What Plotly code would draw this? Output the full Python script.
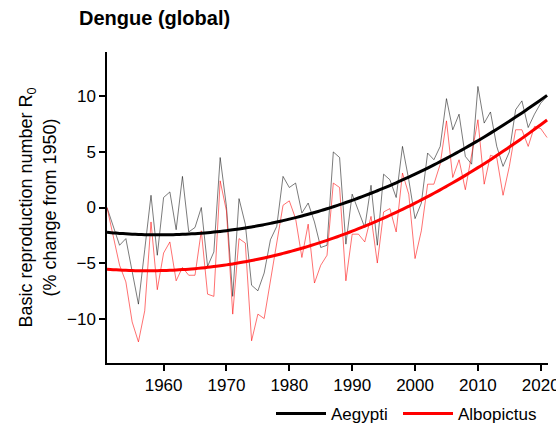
import numpy as np
import plotly.graph_objects as go

years = list(range(1951, 2022))

aegypti = [
    0.0, -1.7, -3.4, -2.8, -5.8, -8.7, -3.8, 1.1, -4.3, 0.9,
    1.4, -2.0, 2.8, -2.2, -1.8, 0.0, -5.3, -4.0, 4.5, 0.1,
    -8.0, 0.8, -1.5, -7.0, -7.5, -5.9, -2.9, -1.7, 2.8, 1.8,
    2.2, -0.5, 0.4, -1.3, -3.6, -3.4, 5.0, 4.5, -3.3, 1.2,
    -0.3, -1.8, 2.0, -3.4, 3.0, 2.5, 0.9, 5.5, 2.5, -1.0,
    0.4, 4.9, 4.3, 5.5, 9.8, 7.0, 8.4, 4.6, 3.9, 10.9,
    7.6, 8.6, 5.5, 3.7, 5.0, 8.8, 9.6, 7.2, 8.4, 9.4,
    10.0,
]

albopictus = [
    0.0, -2.5, -5.2, -6.7, -10.3, -12.1, -9.3, -1.3, -7.4, -4.1,
    -3.1, -6.6, -5.4, -6.1, -6.1, -2.1, -7.8, -8.0, 2.4, -0.3,
    -9.6, -2.8, -3.2, -12.0, -9.6, -10.0, -6.7, -3.3, 0.2, 0.6,
    -1.0, -4.5, -1.5, -6.8, -5.2, -4.3, 2.2, 1.8, -6.6, -2.4,
    -2.4, -3.1, -0.8, -5.0, -0.4, -0.1, -2.2, 3.1, 1.2, -4.6,
    -2.1, 2.1, 2.1, 3.9, 7.8, 2.7, 4.3, 1.6, 4.8, 7.9,
    2.1, 4.7, 4.5, 1.1, 3.7, 7.0, 7.0, 5.5, 7.3, 7.1,
    6.3,
]

series_names = ["Aegypti", "Albopictus"]
x_ticks = [1960, 1970, 1980, 1990, 2000, 2010, 2020]
y_ticks = [-10, -5, 0, 5, 10]

FONT = "Liberation Sans, Arial, sans-serif"

yrs = np.array(years, dtype=float)
fit_a = np.polyval(np.polyfit(yrs, aegypti, 2), yrs)
fit_b = np.polyval(np.polyfit(yrs, albopictus, 2), yrs)

fig = go.Figure()
fig.add_trace(go.Scatter(x=years, y=aegypti, mode="lines", showlegend=False,
                         line=dict(color="rgba(0,0,0,0.65)", width=0.8), hoverinfo="skip"))
fig.add_trace(go.Scatter(x=years, y=albopictus, mode="lines", showlegend=False,
                         line=dict(color="rgba(255,0,0,0.7)", width=0.8), hoverinfo="skip"))
fig.add_trace(go.Scatter(x=years, y=fit_a, mode="lines", name=series_names[0],
                         legend="legend",
                         line=dict(color="black", width=3, shape="spline")))
fig.add_trace(go.Scatter(x=years, y=fit_b, mode="lines", name=series_names[1],
                         legend="legend2",
                         line=dict(color="red", width=3, shape="spline")))

legend_common = dict(orientation="h", xanchor="left", xref="container",
                     y=1 - 414 / 425, yanchor="middle", yref="container",
                     itemwidth=50, font=dict(size=17), bgcolor="rgba(0,0,0,0)")

fig.update_layout(
    width=556, height=425,
    margin=dict(l=107, r=8, t=52, b=62, autoexpand=False),
    plot_bgcolor="white", paper_bgcolor="white",
    font=dict(family=FONT, size=17, color="black"),
    title=dict(text="<b>Dengue (global)</b>", font=dict(size=20, family=FONT),
               x=79 / 556, xanchor="left", xref="container",
               y=1 - 18 / 425, yanchor="middle", yref="container"),
    showlegend=True,
    legend=dict(x=271 / 556, **legend_common),
    legend2=dict(x=398 / 556, **legend_common),
    xaxis=dict(range=[1951, 2021.15], tickvals=x_ticks, showgrid=False, zeroline=False,
               showline=True, linecolor="black", linewidth=1.5, automargin=False,
               ticks="outside", ticklen=6, tickwidth=1.5, tickcolor="black",
               tickfont=dict(size=17), ticklabeloverflow="allow"),
    yaxis=dict(range=[-14, 14], tickvals=y_ticks, showgrid=False, zeroline=False,
               showline=True, linecolor="black", linewidth=1.5, automargin=False,
               ticks="outside", ticklen=6, tickwidth=1.5, tickcolor="black",
               tickfont=dict(size=17),
               title=dict(text="Basic reproduction number R<sub>0</sub><br>(% change from 1950)",
                          font=dict(size=18), standoff=6)),
)

fig.write_html("out.html", config={"displayModeBar": False},
               post_script="document.body.style.margin='0';")
